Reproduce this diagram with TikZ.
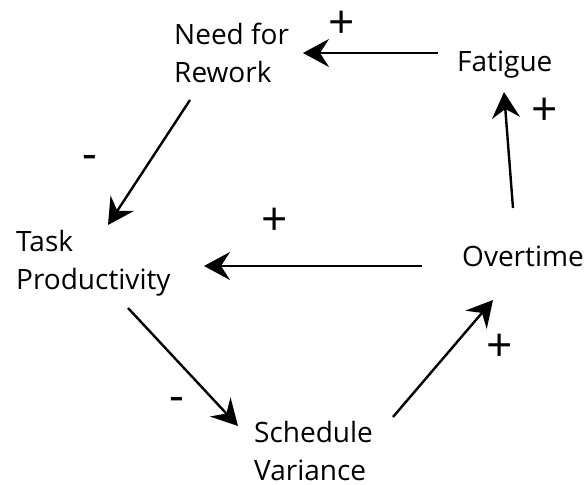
\documentclass[tikz,border=0pt]{standalone}
\usepackage{fontspec}
\setmainfont{Open Sans}
\usetikzlibrary{arrows.meta}

\begin{document}
\begin{tikzpicture}[x=0.5pt,y=-0.5pt,>={Stealth[length=13pt,width=14pt,inset=4.5pt]},line width=1.2pt,
    main node/.style={anchor=north west,inner sep=0pt,align=left,font=\fontsize{14}{19}\selectfont},
    sign node/.style={inner sep=0pt,font=\fontsize{23}{23}\selectfont}]

            \useasboundingbox (0,0) rectangle (585,485);

            \node[main node]  (need)  at (173,22)  {Need for\\Rework};
            \node[main node]  (fat)   at (456,50)  {Fatigue};
            \node[main node]  (task)  at (15,229)  {Task\\Productivity};
            \node[main node]  (over)  at (461,245) {Overtime};
            \node[main node]  (sched) at (253,420) {Schedule\\Variance};

            % polarity signs
            \node[sign node] (s1) at (342,25)  {+};
            \node[sign node] (s2) at (545,112) {+};
            \node[sign node] (s3) at (275,222) {+};
            \node[sign node] (s4) at (90,162)  {-};
            \node[sign node] (s5) at (177,404) {-};
            \node[sign node] (s6) at (500,348) {+};

            \draw[->] ([shift={(-18,3)}]fat.north west) to ([shift={(130,31)}]need.north west);
            \draw[->] ([shift={(52,-37)}]over.north west) to ([shift={(48,42)}]fat.north west);
            \draw[->] ([shift={(17,78)}]need.north west) to ([shift={(93,-4)}]task.north west);
            \draw[->] ([shift={(-39,21)}]over.north west) to ([shift={(189,37)}]task.north west);
            \draw[->] ([shift={(113,79)}]task.north west) to ([shift={(-15,6)}]sched.north west);
            \draw[->] ([shift={(140,-3)}]sched.north west) to ([shift={(32,55)}]over.north west);

        \end{tikzpicture}
\end{document}
